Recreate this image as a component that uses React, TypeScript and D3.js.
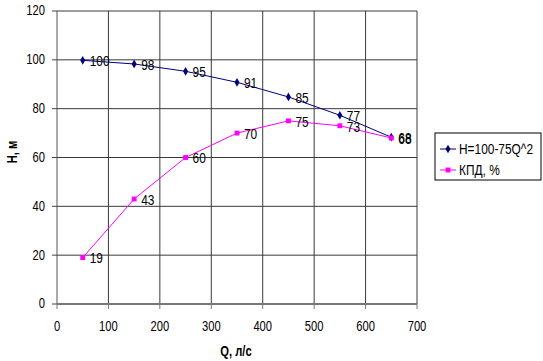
import React, { useEffect } from 'react';
import * as d3 from 'd3';

// flow, l/s
const flows = [50, 150, 250, 350, 450, 550, 650];
// head curve H = 100 - 75Q^2
const headValues = [99.8, 98.3, 95.3, 90.8, 84.8, 77.3, 68.3];
// efficiency, %
const effValues = [19, 43, 60, 70, 75, 73, 68];
const xTicks = [0, 100, 200, 300, 400, 500, 600, 700];
const yTicks = [0, 20, 40, 60, 80, 100, 120];
const legendLabels = ['H=100-75Q^2', 'КПД, %'];

const W = 543;
const H = 361;
const FONT = "'Liberation Sans', Arial, sans-serif";

const T: React.FC<{ x: number; y: number; sx?: number; size?: number; anchor?: string; weight?: string; rotate?: number; children: React.ReactNode }> = ({ x, y, sx = 1, size = 13, anchor = 'start', weight = 'normal', rotate = 0, children }) => (
  <text
    transform={`translate(${x},${y}) rotate(${rotate}) scale(${sx},1)`}
    fontFamily={FONT}
    fontSize={size}
    fontWeight={weight}
    textAnchor={anchor}
    dominantBaseline="central"
    fill="#000"
  >
    {children}
  </text>
);

const App: React.FC = () => {
  useEffect(() => {
    document.body.style.margin = '0';
  }, []);

  const x = d3.scaleLinear().domain([0, 700]).range([57, 417]);
  const y = d3.scaleLinear().domain([0, 120]).range([304, 11]);
  const fmt = d3.format('.0f');

  const line = d3.line<number>().x((_, i) => x(flows[i])).y(d => y(d));
  const diamond = d3.symbol().type(d3.symbolDiamond).size(22)();
  const square = d3.symbol().type(d3.symbolSquare).size(24)();

  return (
    <svg width={W} height={H} style={{ display: 'block', background: '#fff' }}>
      {/* grid */}
      {yTicks.filter(t => t > 0).map(t => (
        <line key={'gy' + t} x1={x(0)} x2={x(700)} y1={y(t)} y2={y(t)} stroke="#3a3a3a" strokeWidth={1} />
      ))}
      {xTicks.filter(t => t > 0).map(t => (
        <line key={'gx' + t} x1={x(t)} x2={x(t)} y1={y(0)} y2={y(120)} stroke="#3a3a3a" strokeWidth={1} />
      ))}
      {/* axes */}
      <line x1={x(0)} x2={x(0)} y1={y(0)} y2={y(120)} stroke="#555" strokeWidth={1} />
      <line x1={x(0)} x2={x(700)} y1={y(0)} y2={y(0)} stroke="#777" strokeWidth={2} />
      {yTicks.map(t => (
        <g key={'ty' + t}>
          <line x1={x(0) - 5} x2={x(0)} y1={y(t)} y2={y(t)} stroke="#444" />
          <T x={45} y={y(t)} sx={0.8} size={14} anchor="end">{t}</T>
        </g>
      ))}
      {xTicks.map(t => (
        <g key={'tx' + t}>
          <line x1={x(t)} x2={x(t)} y1={y(0)} y2={y(0) + 5} stroke="#777" />
          <T x={x(t)} y={327} sx={0.8} size={14} anchor="middle">{t}</T>
        </g>
      ))}
      <T x={236} y={352} sx={0.8} size={14} anchor="middle" weight="bold">Q, л/с</T>
      <T x={13} y={152} sx={0.8} size={14} anchor="middle" weight="bold" rotate={-90}>H, м</T>

      {/* series */}
      <path d={line(headValues) || ''} fill="none" stroke="#000080" strokeWidth={1} />
      <path d={line(effValues) || ''} fill="none" stroke="#ff00ff" strokeWidth={1} />
      {headValues.map((v, i) => (
        <path key={'hm' + i} d={diamond || ''} transform={`translate(${x(flows[i])},${y(v)})`} fill="#000080" />
      ))}
      {effValues.map((v, i) => (
        <path key={'em' + i} d={square || ''} transform={`translate(${x(flows[i])},${y(v)})`} fill="#ff00ff" />
      ))}
      {headValues.map((v, i) => (
        <T key={'hl' + i} x={x(flows[i]) + 7} y={y(v) + 1} sx={0.85} size={14}>{fmt(v)}</T>
      ))}
      {effValues.map((v, i) => (
        <T key={'el' + i} x={x(flows[i]) + 7} y={y(v) + 1} sx={0.85} size={14}>{fmt(v)}</T>
      ))}

      {/* legend */}
      <rect x={435} y={133} width={106} height={47} fill="#fff" stroke="#000" strokeWidth={1} />
      <line x1={440} x2={456} y1={149} y2={149} stroke="#000080" />
      <path d={diamond || ''} transform="translate(448,149)" fill="#000080" />
      <T x={459} y={149} sx={0.85} size={14}>{legendLabels[0]}</T>
      <line x1={440} x2={456} y1={170} y2={170} stroke="#ff00ff" />
      <path d={square || ''} transform="translate(448,170)" fill="#ff00ff" />
      <T x={459} y={170} sx={0.85} size={14}>{legendLabels[1]}</T>
    </svg>
  );
};

export default App;
